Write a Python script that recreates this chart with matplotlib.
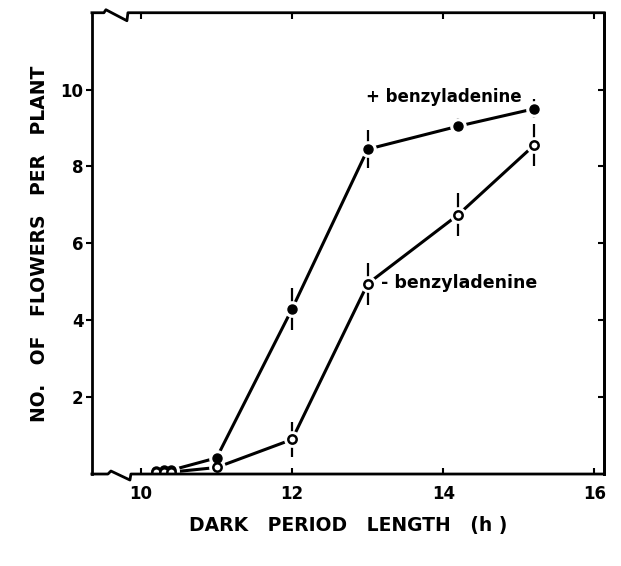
import matplotlib.pyplot as plt
import numpy as np

# dark period length (h) and flowers per plant
dark_plus = [10.2, 10.3, 10.4, 11.0, 12.0, 13.0, 14.2, 15.2]
flowers_plus = [0.08, 0.1, 0.1, 0.42, 4.3, 8.45, 9.05, 9.5]
err_plus = [0, 0, 0, 0.1, 0.55, 0.5, 0.2, 0.25]

dark_minus = [10.2, 10.3, 10.4, 11.0, 12.0, 13.0, 14.2, 15.2]
flowers_minus = [0.05, 0.05, 0.05, 0.17, 0.9, 4.95, 6.75, 8.55]
err_minus = [0, 0, 0, 0, 0.45, 0.55, 0.55, 0.55]

x_ticks = [10, 12, 14, 16]
y_ticks = [2, 4, 6, 8, 10]

plt.rcParams['font.family'] = 'DejaVu Sans'
plt.rcParams['font.weight'] = 'bold'

fig = plt.figure(figsize=(6.21, 5.66), dpi=100)
ax = fig.add_axes([0.148, 0.1625, 0.825, 0.815])

# lines + error bars
for x, y, e in [(dark_plus, flowers_plus, err_plus), (dark_minus, flowers_minus, err_minus)]:
    ax.plot(x, y, color='black', lw=2.2, zorder=1, solid_capstyle='butt')
    ax.errorbar(x, y, yerr=e, fmt='none', ecolor='black', elinewidth=1.6, capsize=0, zorder=1)
    # white halo -> gap between marker and lines
    ax.plot(x, y, 'o', ms=11, mfc='white', mec='white', zorder=2)

ax.plot(dark_plus, flowers_plus, 'o', ms=6.5, mfc='black', mec='black', zorder=3)
ax.plot(dark_minus, flowers_minus, 'o', ms=6, mfc='white', mec='black', mew=1.8, zorder=3)

ax.text(12.98, 9.82, '+ benzyladenine', fontsize=12, fontweight='bold', va='center', ha='left')
ax.text(13.17, 4.98, '- benzyladenine', fontsize=12.5, fontweight='bold', va='center', ha='left')

ax.set_xlim(9.35, 16.13)
ax.set_ylim(0, 12)
ax.set_xticks(x_ticks)
ax.set_yticks(y_ticks)
ax.tick_params(axis='x', direction='in', top=True, length=4, width=1.5, labelsize=12, pad=8)
ax.tick_params(axis='y', direction='out', length=4, width=1.5, labelsize=12, pad=2)

right = ax.secondary_yaxis('right')
right.set_yticks(y_ticks)
right.tick_params(direction='in', length=4, width=1.5, labelright=False)
right.spines['right'].set_linewidth(2)

for s in ['left', 'right']:
    ax.spines[s].set_linewidth(2)
ax.spines['bottom'].set_visible(False)
ax.spines['top'].set_visible(False)

# spines with the axis-break zigzag near the left end
w, h = 512.0, 461.0
bx = [0, 16 / w, 19 / w, 38 / w, 39 / w, 1]
by = [0, 0, 3 / h, -6 / h, 0, 0]
ax.plot(bx, by, color='black', lw=2, transform=ax.transAxes, clip_on=False, zorder=4)
tx = [0, 12 / w, 14 / w, 35 / w, 36 / w, 1]
ty = [1, 1, 1 + 3 / h, 1 - 8 / h, 1, 1]
ax.plot(tx, ty, color='black', lw=2, transform=ax.transAxes, clip_on=False, zorder=4)

ax.set_xlabel('DARK   PERIOD   LENGTH   (h )', fontsize=13.5, fontweight='bold')
ax.set_ylabel('NO.   OF   FLOWERS   PER   PLANT', fontsize=13.5, fontweight='bold')
ax.xaxis.set_label_coords(0.5, -0.09)
ax.yaxis.set_label_coords(-0.083, 0.5)

fig.savefig('out.png', dpi=100)
